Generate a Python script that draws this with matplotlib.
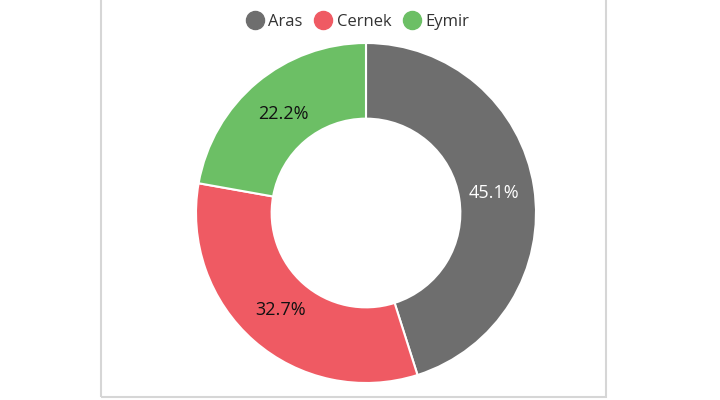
import matplotlib
matplotlib.use("Agg")
import matplotlib.pyplot as plt
from matplotlib.patches import Rectangle
from matplotlib.lines import Line2D

categories = ["Aras", "Cernek", "Eymir"]
values = [45.1, 32.7, 22.2]
colors = ["#6e6e6e", "#ef5a63", "#6cbf65"]
label_colors = ["white", "#111111", "#111111"]

plt.rcParams['font.family'] = ['Open Sans', 'DejaVu Sans']

fig = plt.figure(figsize=(7.2, 4.0), dpi=100)
fig.patch.set_facecolor("white")

# frame
fig.patches.append(Rectangle((101/720, 3/400), 505/720, 400/400, transform=fig.transFigure,
                             fill=False, edgecolor="#d6d6d6", linewidth=1.5, zorder=0))

ax = fig.add_axes([196/720, 17/400, 340/720, 340/400])
wedges, texts, autotexts = ax.pie(values, colors=colors, startangle=90, counterclock=False,
                                  radius=1.0, autopct="%.1f%%", pctdistance=0.76,
                                  wedgeprops=dict(width=0.445, edgecolor="white", linewidth=1.5),
                                  textprops=dict(fontsize=13))
for t, c in zip(autotexts, label_colors):
    t.set_color(c)
ax.set_aspect("equal")
ax.set_xlim(-1, 1)
ax.set_ylim(-1, 1)
ax.axis("off")

handles = [Line2D([0], [0], marker="o", linestyle="", markersize=13, markerfacecolor=c,
                  markeredgecolor=c) for c in colors]
fig.legend(handles, categories, loc="center", bbox_to_anchor=(358/720, 1 - 22/400),
           ncol=3, frameon=False, fontsize=12, handlelength=1.0, handletextpad=0.3,
           columnspacing=0.76, labelcolor="#333333")

fig.savefig("out.png", dpi=100, facecolor="white")
